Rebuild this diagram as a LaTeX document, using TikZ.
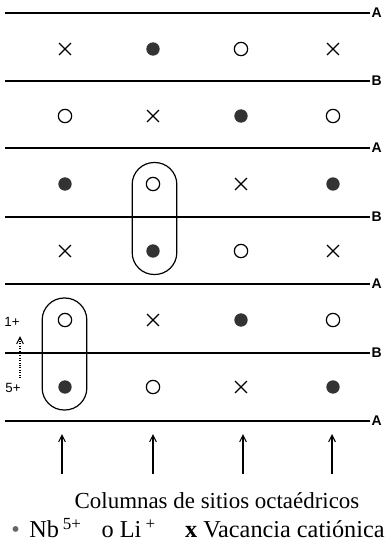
\documentclass[tikz,border=0pt]{standalone}
\usepackage{fontspec}
\setmainfont{Liberation Serif}
\setsansfont{Liberation Sans}
\usetikzlibrary{arrows.meta,shapes.misc}

\begin{document}
\begin{tikzpicture}
  [x=0.75pt,y=-0.75pt,
   plano/.style={line width=1.1pt},
   capa/.style={font=\sffamily\bfseries\fontsize{10.5}{12}\selectfont,inner sep=1pt,anchor=west},
   nb/.style={circle,fill=black!80,inner sep=0pt,minimum size=10pt},
   li/.style={circle,draw,line width=0.9pt,inner sep=0pt,minimum size=10pt},
   vac/.style={cross out,draw,line width=0.9pt,inner sep=0pt,minimum size=8pt},
   capsula/.style={draw,line width=0.9pt,rounded corners=16.5pt,minimum width=33.5pt,minimum height=84pt},
   carga/.style={font=\sffamily\fontsize{10}{12}\selectfont,inner sep=1pt},
   flecha/.style={line width=0.8pt,-{Straight Barb[length=5pt,width=5pt]}},
   texto/.style={font=\fontsize{17.2}{20}\selectfont,inner sep=0pt}]

  \useasboundingbox (0,0) rectangle (390,550);

  % planos A y B
  \foreach \y/\l [count=\i] in {13/A,81/B,148/A,217/B,284/A,353/B,421/A} {
    \coordinate (p\i) at (5,\y);
    \node[capa] (t\i) at (370,\y) {\l};
    \draw[plano] (p\i) -- (t\i.west);
  }

  % sitios octaedricos
  \foreach \y/\fila [count=\r] in {49/{vac,nb,li,vac},116/{li,vac,nb,li},184/{nb,li,vac,nb},
                                   251/{vac,nb,li,vac},320/{li,vac,nb,li},387/{nb,li,vac,nb}}
    \foreach \t/\x [count=\c] in \fila {
      \pgfmathsetmacro\xx{{65,153,241,333}[\c-1]}
      \node[\t] (s\r\c) at (\xx,\y) {};
    }

  \node[capsula] (c1) at (64.5,354) {};
  \node[capsula] (c2) at (154.5,218.5) {};

  % cargas
  \node[carga] (q1) at (12,322) {1+};
  \node[carga] (q5) at (13,388) {5+};
  \coordinate (f0) at (20,378);
  \coordinate (f1) at (20,336);
  \draw[densely dotted,flecha] (f0) -- (f1);

  % columnas
  \foreach \x [count=\c] in {62,153,243,332} {
    \coordinate (b\c) at (\x,474);
    \coordinate (a\c) at (\x,434);
    \draw[flecha] (b\c) -- (a\c);
  }

  \node[texto] (titulo) at (217,501) {Columnas de sitios octaédricos};
  \node[texto,font=\fontsize{18.2}{20}\selectfont] (leyenda) at (198,528)
    {{\color{black!60}\textbullet}\hspace{7pt}Nb\,\textsuperscript{5+}\hspace{15pt}o Li\,\textsuperscript{+}\hspace{22pt}\textbf{x} Vacancia catiónica};
\end{tikzpicture}
\end{document}
